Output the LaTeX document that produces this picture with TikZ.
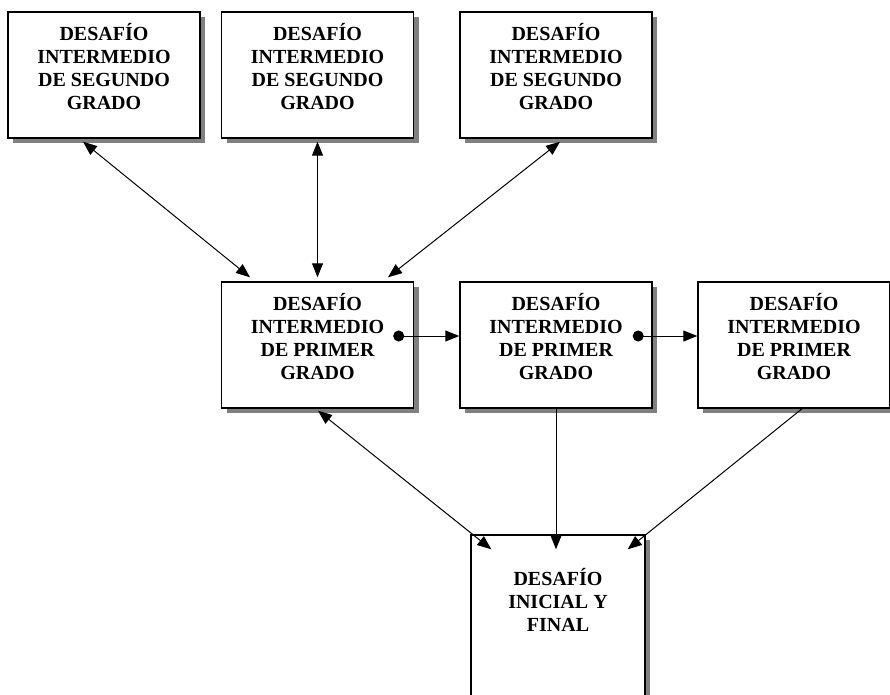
\documentclass[tikz,border=0pt]{standalone}
\usepackage{fontspec}
\setmainfont{Liberation Serif}
\usetikzlibrary{arrows.meta,shadows,calc}
\tikzset{
  box/.style={draw=black, line width=1.4pt, fill=white, minimum width=192pt, minimum height=126pt, inner sep=0pt,
    drop shadow={shadow xshift=5pt, shadow yshift=-5pt, fill=black!50, opacity=1}},
  boxtext/.style={anchor=north, inner sep=0pt, align=center, font=\bfseries\fontsize{20}{23}\selectfont},
  conn/.style={line width=1pt, black},
  twohead/.style={conn, {Triangle[length=14pt,width=11pt]}-{Triangle[length=14pt,width=11pt]}},
  onehead/.style={conn, -{Triangle[length=14pt,width=11pt]}},
  dothead/.style={conn, {Circle[length=11pt]}-{Triangle[length=14pt,width=11pt]}}
}
\begin{document}
\begin{tikzpicture}[x=1pt,y=-1pt]
\useasboundingbox (0,0) rectangle (890,694);
% top row
\node[box] (t1) at (104,75) {};
\node[box] (t2) at (317.5,75) {};
\node[box] (t3) at (556,75) {};
% middle row
\node[box] (mA) at (317.5,345) {};
\node[box] (mB) at (556,345) {};
\node[box] (mC) at (794,345) {};
% bottom
\node[box, minimum width=174pt, minimum height=220pt] (fin) at (558,645) {};
% texts
\node[boxtext] (t1x) at ([yshift=-12pt]t1.north) {DESAFÍO\\INTERMEDIO\\DE SEGUNDO\\GRADO};
\node[boxtext] (t2x) at ([yshift=-12pt]t2.north) {DESAFÍO\\INTERMEDIO\\DE SEGUNDO\\GRADO};
\node[boxtext] (t3x) at ([yshift=-12pt]t3.north) {DESAFÍO\\INTERMEDIO\\DE SEGUNDO\\GRADO};
\node[boxtext] (mAx) at ([yshift=-12pt]mA.north) {DESAFÍO\\INTERMEDIO\\DE PRIMER\\GRADO};
\node[boxtext] (mBx) at ([yshift=-12pt]mB.north) {DESAFÍO\\INTERMEDIO\\DE PRIMER\\GRADO};
\node[boxtext] (mCx) at ([yshift=-12pt]mC.north) {DESAFÍO\\INTERMEDIO\\DE PRIMER\\GRADO};
\node[boxtext] (finx) at ([yshift=-34pt]fin.north) {DESAFÍO\\INICIAL Y\\FINAL};
% connectors top -> middle
\draw[twohead] ([xshift=-21pt,yshift=-3pt]t1.south) -- ([xshift=-67.5pt,yshift=4pt]mA.north);
\draw[twohead] ([yshift=-3pt]t2.south) -- ([yshift=4pt]mA.north);
\draw[twohead] ([xshift=4pt,yshift=-3pt]t3.south) -- ([xshift=70.5pt,yshift=4pt]mA.north);
% middle row chain
\draw[dothead] ([xshift=-21pt,yshift=9pt]mA.east) -- ([yshift=9pt]mB.west);
\draw[dothead] ([xshift=-20pt,yshift=9pt]mB.east) -- ([yshift=9pt]mC.west);
% middle -> bottom
\draw[twohead] ([xshift=0.5pt,yshift=-2pt]mA.south) -- ($(fin.north west)+(21,15)$);
\draw[onehead] (mB.south) -- ($(mB.south |- fin.north)+(0,15)$);
\draw[onehead] ([xshift=8pt]mC.south) -- ($(fin.north east)+(-18,15)$);
\end{tikzpicture}
\end{document}
